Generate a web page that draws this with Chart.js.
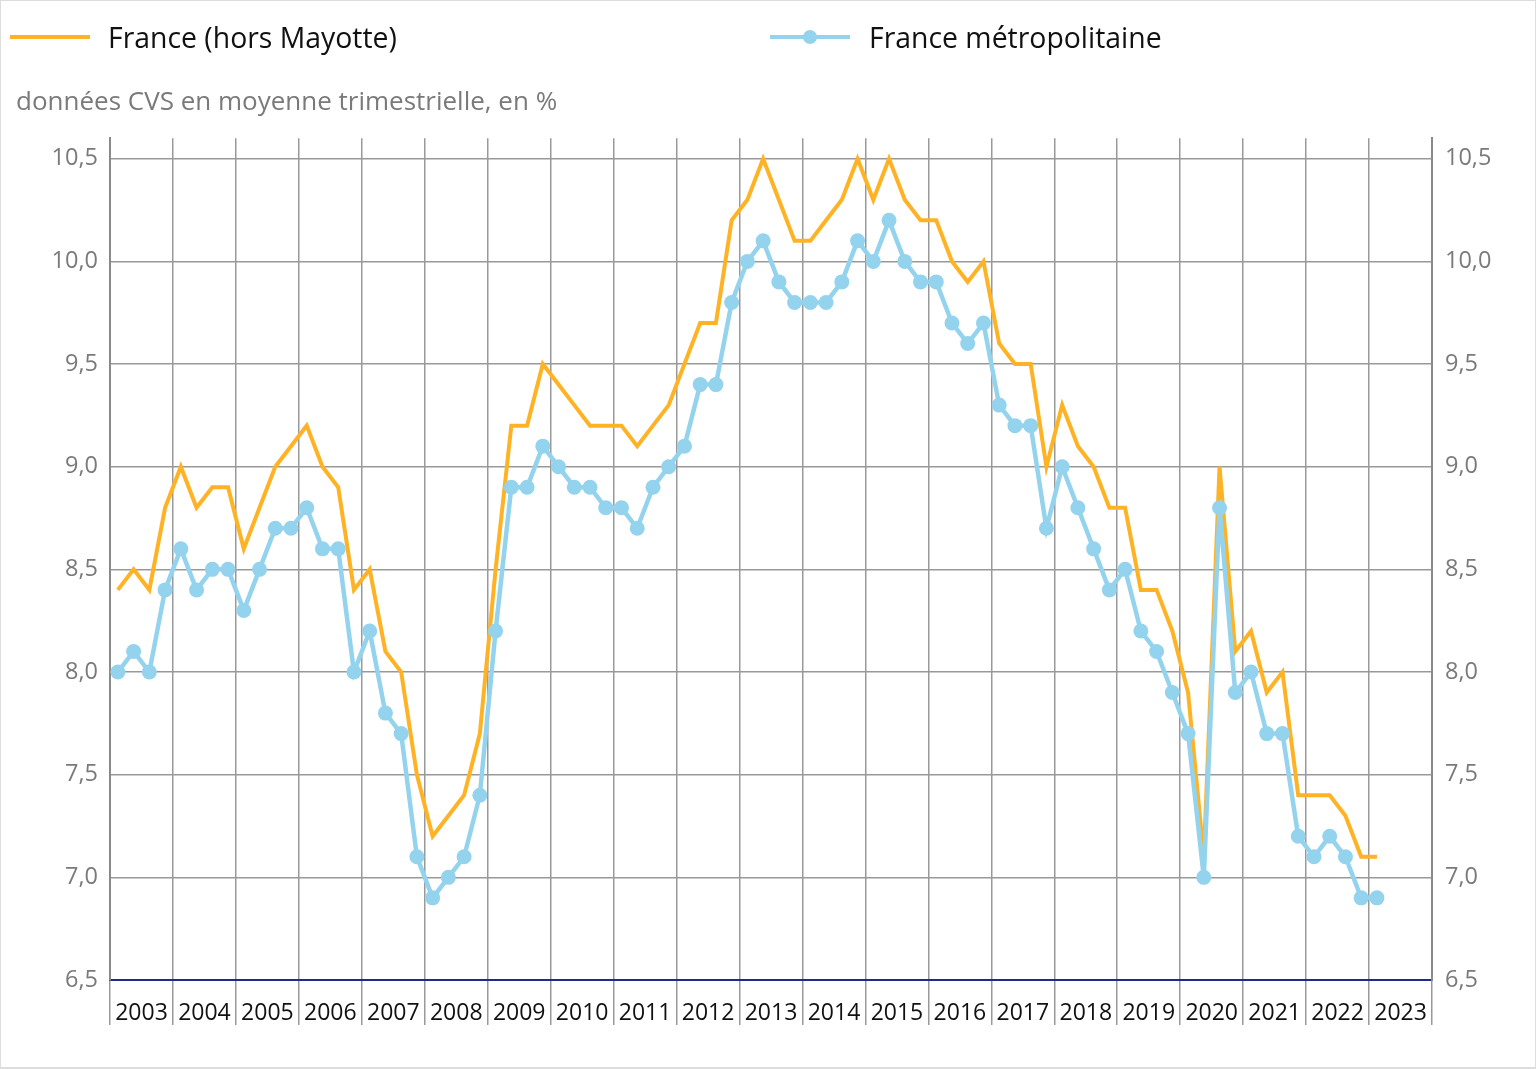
<!DOCTYPE html>
<html>
<head>
<meta charset="utf-8">
<script src="https://cdn.jsdelivr.net/npm/chart.js@4"></script>
<style>
  html, body { margin: 0; padding: 0; background: #fff; }
  body { width: 1536px; height: 1069px; position: relative; overflow: hidden; font-family: "Open Sans", "Noto Sans", sans-serif; }
  .frame { position: absolute; left: 0; top: 0; width: 1534px; height: 1066px; border: 1px solid #ddd; border-bottom-width: 2px; }
  .legend { position: absolute; top: 17px; left: 0; width: 100%; height: 40px; font-size: 28.4px; color: #111; }
  .legend .item { position: absolute; top: 0; height: 40px; line-height: 40px; }
  .legend .swatch { position: absolute; top: 18px; width: 80px; height: 4px; }
  .legend .dot { position: absolute; top: 13px; left: 33px; width: 14px; height: 14px; border-radius: 50%; }
  .legend .label { position: absolute; white-space: nowrap; }
  canvas { position: absolute; left: 0; top: 0; }
</style>
</head>
<body>
<div class="frame"></div>
<canvas id="chart" width="1536" height="1069"></canvas>
<div class="legend">
  <div class="item" style="left:10px">
    <div class="swatch" style="left:0; background:#ffb324"></div>
    <span class="label" style="left:98px">France (hors Mayotte)</span>
  </div>
  <div class="item" style="left:770px">
    <div class="swatch" style="left:0; background:#94d3ed"></div>
    <div class="dot" style="background:#94d3ed"></div>
    <span class="label" style="left:99px">France métropolitaine</span>
  </div>
</div>
<script>
// quarterly values, 2003 T1 -> 2023 T1
const years = ['2003', '2004', '2005', '2006', '2007', '2008', '2009', '2010', '2011', '2012',
  '2013', '2014', '2015', '2016', '2017', '2018', '2019', '2020', '2021', '2022', '2023'];

const franceHorsMayotte = [
  8.4, 8.5, 8.4, 8.8,   9.0, 8.8, 8.9, 8.9,   8.6, 8.8, 9.0, 9.1,   9.2, 9.0, 8.9, 8.4,
  8.5, 8.1, 8.0, 7.5,   7.2, 7.3, 7.4, 7.7,   8.5, 9.2, 9.2, 9.5,   9.4, 9.3, 9.2, 9.2,
  9.2, 9.1, 9.2, 9.3,   9.5, 9.7, 9.7, 10.2,  10.3, 10.5, 10.3, 10.1, 10.1, 10.2, 10.3, 10.5,
  10.3, 10.5, 10.3, 10.2, 10.2, 10.0, 9.9, 10.0, 9.6, 9.5, 9.5, 9.0,  9.3, 9.1, 9.0, 8.8,
  8.8, 8.4, 8.4, 8.2,   7.9, 7.1, 9.0, 8.1,   8.2, 7.9, 8.0, 7.4,   7.4, 7.4, 7.3, 7.1,
  7.1
];

const franceMetro = [
  8.0, 8.1, 8.0, 8.4,   8.6, 8.4, 8.5, 8.5,   8.3, 8.5, 8.7, 8.7,   8.8, 8.6, 8.6, 8.0,
  8.2, 7.8, 7.7, 7.1,   6.9, 7.0, 7.1, 7.4,   8.2, 8.9, 8.9, 9.1,   9.0, 8.9, 8.9, 8.8,
  8.8, 8.7, 8.9, 9.0,   9.1, 9.4, 9.4, 9.8,   10.0, 10.1, 9.9, 9.8,  9.8, 9.8, 9.9, 10.1,
  10.0, 10.2, 10.0, 9.9, 9.9, 9.7, 9.6, 9.7,  9.3, 9.2, 9.2, 8.7,   9.0, 8.8, 8.6, 8.4,
  8.5, 8.2, 8.1, 7.9,   7.7, 7.0, 8.8, 7.9,   8.0, 7.7, 7.7, 7.2,   7.1, 7.2, 7.1, 6.9,
  6.9
];

const yTicks = [6.5, 7.0, 7.5, 8.0, 8.5, 9.0, 9.5, 10.0, 10.5];

const fmt = v => v.toFixed(1).replace('.', ',');
// one slot per quarter, point in the middle of its slot
const toPoints = arr => arr.map((v, i) => ({ x: i + 0.5, y: v }));

const gridColor = '#999';
const tickFont = { family: '"Open Sans", "Noto Sans", sans-serif', size: 23.5 };

new Chart(document.getElementById('chart'), {
  type: 'line',
  data: {
    datasets: [
      {
        label: 'France (hors Mayotte)',
        data: toPoints(franceHorsMayotte),
        borderColor: '#ffb324',
        borderWidth: 4,
        pointRadius: 0,
        tension: 0,
        order: 1
      },
      {
        label: 'France métropolitaine',
        data: toPoints(franceMetro),
        borderColor: '#94d3ed',
        backgroundColor: '#94d3ed',
        borderWidth: 4.5,
        pointRadius: 7.5,
        pointBorderWidth: 0,
        tension: 0,
        order: 0
      }
    ]
  },
  options: {
    responsive: false,
    animation: false,
    layout: { padding: { top: 87, left: 16, right: 0, bottom: 39 } },
    plugins: {
      legend: { display: false },
      tooltip: { enabled: false },
      title: {
        display: true,
        text: 'données CVS en moyenne trimestrielle, en %',
        align: 'start',
        color: '#7a7a7a',
        font: { family: '"Open Sans", "Noto Sans", sans-serif', size: 26, weight: 'normal' },
        padding: { top: 0, bottom: 20 }
      }
    },
    scales: {
      x: {
        type: 'linear',
        min: 0,
        max: years.length * 4,
        afterBuildTicks: s => { s.ticks = years.map((y, i) => ({ value: i * 4 })).concat([{ value: years.length * 4 }]); },
        afterFit: s => { s.height = 50; },
        grid: { color: gridColor, lineWidth: 1.5, tickLength: 45, tickColor: gridColor },
        border: { color: '#1f2a8c', width: 2 },
        ticks: {
          autoSkip: false,
          maxRotation: 0,
          labelOffset: 31.5,
          padding: -25,
          color: '#111',
          font: { family: tickFont.family, size: 23 },
          callback: v => years[v / 4] || ''
        }
      },
      y: {
        position: 'left',
        min: 6.5,
        max: 10.6,
        afterBuildTicks: s => { s.ticks = yTicks.map(v => ({ value: v })); },
        afterFit: s => { s.width = 94; },
        grid: { color: gridColor, lineWidth: 1.5, drawTicks: false },
        border: { color: '#8a8a8a', width: 2 },
        ticks: { padding: 12, color: '#7a7a7a', font: tickFont, callback: v => fmt(v) }
      },
      y2: {
        position: 'right',
        min: 6.5,
        max: 10.6,
        afterBuildTicks: s => { s.ticks = yTicks.map(v => ({ value: v })); },
        afterFit: s => { s.width = 104; },
        grid: { display: false, drawTicks: false },
        border: { color: '#8a8a8a', width: 2 },
        ticks: { padding: 13, color: '#7a7a7a', font: tickFont, callback: v => fmt(v) }
      }
    }
  }
});
</script>
</body>
</html>
